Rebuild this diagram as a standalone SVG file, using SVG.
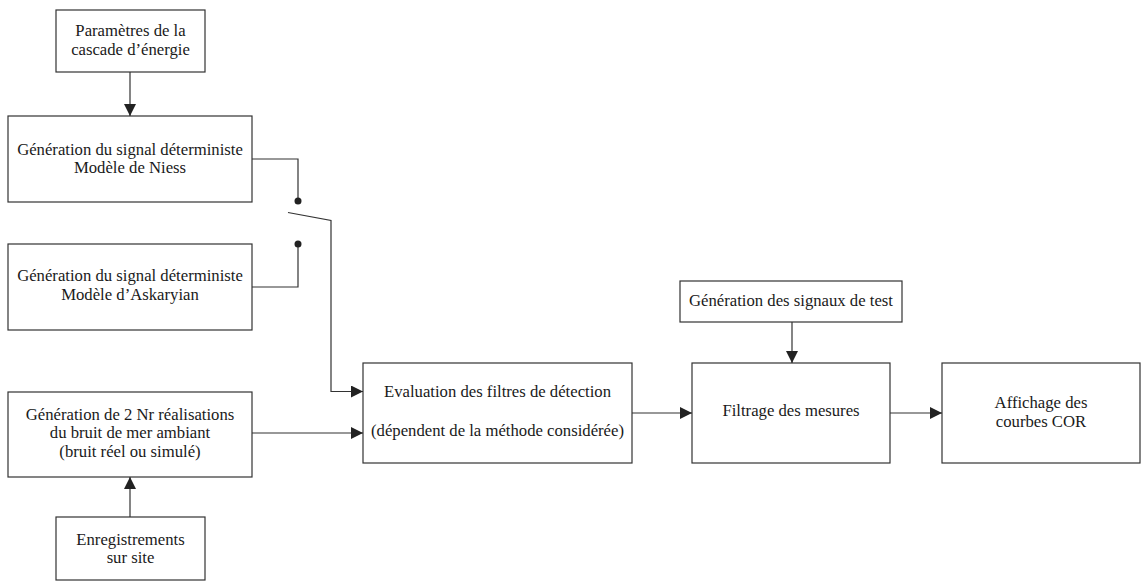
<svg xmlns="http://www.w3.org/2000/svg" width="1141" height="581" viewBox="0 0 1141 581">
<defs>
<style>
.box{fill:#fff;stroke:#333;stroke-width:1.2}
.t{font-family:"Liberation Serif","Times New Roman",serif;font-size:16.7px;fill:#1a1a1a;text-anchor:middle}
.c{fill:none;stroke:#333;stroke-width:1.2}
</style>
<marker id="ah" viewBox="0 0 10 10" refX="10" refY="5" markerWidth="12" markerHeight="12" markerUnits="userSpaceOnUse" orient="auto">
<path d="M0,0 L10,5 L0,10 z" fill="#222"/>
</marker>
</defs>
<rect width="1141" height="581" fill="#fff"/>
<g id="n1"><rect class="box" x="56" y="10" width="149" height="62"/><text class="t" x="130.5" y="36">Paramètres de la</text><text class="t" x="130.5" y="55">cascade d’énergie</text></g>
<g id="n2"><rect class="box" x="8" y="116" width="244" height="86"/><text class="t" x="130" y="155">Génération du signal déterministe</text><text class="t" x="130" y="173">Modèle de Niess</text></g>
<g id="n3"><rect class="box" x="8" y="244" width="244" height="86"/><text class="t" x="130" y="281">Génération du signal déterministe</text><text class="t" x="130" y="300">Modèle d’Askaryian</text></g>
<g id="n4"><rect class="box" x="8" y="392" width="244" height="85"/><text class="t" x="130" y="420">Génération de 2 Nr réalisations</text><text class="t" x="130" y="438">du bruit de mer ambiant</text><text class="t" x="130" y="457">(bruit réel ou simulé)</text></g>
<g id="n5"><rect class="box" x="56" y="517" width="149" height="63"/><text class="t" x="130.5" y="545">Enregistrements</text><text class="t" x="130.5" y="563">sur site</text></g>
<g id="n6"><rect class="box" x="363" y="363" width="269" height="100"/><text class="t" x="497.5" y="397">Evaluation des filtres de détection</text><text class="t" x="497.5" y="436">(dépendent de la méthode considérée)</text></g>
<g id="n7"><rect class="box" x="680" y="281" width="222" height="41"/><text class="t" x="791" y="306">Génération des signaux de test</text></g>
<g id="n8"><rect class="box" x="692" y="363" width="198" height="100"/><text class="t" x="791" y="416">Filtrage des mesures</text></g>
<g id="n9"><rect class="box" x="942" y="363" width="198" height="100"/><text class="t" x="1041" y="408">Affichage des</text><text class="t" x="1041" y="427">courbes COR</text></g>
<g id="connectors">
<line class="c" x1="130" y1="72" x2="130" y2="116" marker-end="url(#ah)"/>
<polyline class="c" points="252,159 298,159 298,201"/>
<circle cx="298" cy="201" r="3.5" fill="#222"/>
<polyline class="c" points="252,287 298,287 298,244"/>
<circle cx="298" cy="244" r="3.5" fill="#222"/>
<polyline class="c" points="288,212.5 331,220.5 331,391.5 363,391.5" marker-end="url(#ah)"/>
<line class="c" x1="252" y1="433" x2="363" y2="433" marker-end="url(#ah)"/>
<line class="c" x1="130" y1="517" x2="130" y2="477" marker-end="url(#ah)"/>
<line class="c" x1="632" y1="413" x2="692" y2="413" marker-end="url(#ah)"/>
<line class="c" x1="792" y1="322" x2="792" y2="363" marker-end="url(#ah)"/>
<line class="c" x1="890" y1="413" x2="942" y2="413" marker-end="url(#ah)"/>
</g>
</svg>
